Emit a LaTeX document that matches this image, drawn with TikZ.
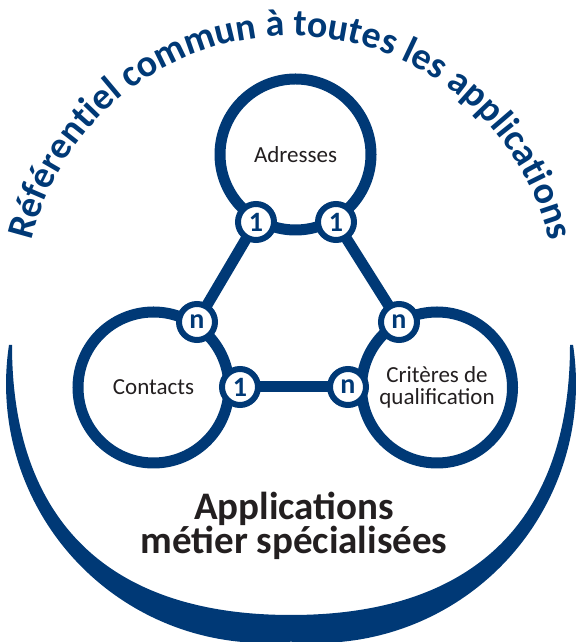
\documentclass[tikz,border=0pt]{standalone}
\usepackage{fontspec}
\setmainfont{Carlito}
\usetikzlibrary{decorations.text}
\definecolor{navy}{RGB}{0,57,118}
\definecolor{ink}{RGB}{35,31,32}
\begin{document}
\begin{tikzpicture}[x=1pt,y=1pt,
  bigring/.style={circle, draw=navy, line width=11pt, fill=white, minimum size=151pt, inner sep=0pt, align=center, text=ink, font=\fontsize{23}{23}\selectfont},
  badge/.style={circle, draw=navy, line width=6pt, fill=white, minimum size=36pt, inner sep=0pt, text=navy, font=\bfseries\fontsize{28}{28}\selectfont},
  link/.style={draw=navy, line width=11pt}
]
\useasboundingbox (0,0) rectangle (576,642);
% bottom crescent
\fill[navy] (9,297) arc[start angle=171.34, end angle=275.76, radius=259]
  arc[start angle=264.24, end angle=368.66, radius=259]
  -- (570,297) .. controls (570,130) and (482,27) .. (291,27)
  .. controls (100,27) and (12,130) .. (12,297) -- cycle;
% title along arc
\path[decorate, decoration={text along path, text align=center,
  text={|\color{navy}\bfseries\fontsize{38}{40}\selectfont|Référentiel commun à toutes les applications}}]
  (24.5,340) arc[start angle=180, end angle=0, radius=266];
% rings
\node[bigring] (adr) at (295.5,487.5) {Adresses};
\node[bigring] (con) at (153.5,254.5) {Contacts};
\node[bigring] (cri) at (437,254.5) {Critères de\\[-1pt]qualification};
% badge positions
\coordinate (pa1) at (256,420);
\coordinate (pa2) at (336,420);
\coordinate (pcn) at (197,320);
\coordinate (pc1) at (240,255);
\coordinate (pqn) at (399,320);
\coordinate (pq1) at (348,255);
% links
\draw[link] (pa1) -- (pcn);
\draw[link] (pa2) -- (pqn);
\draw[link] (pc1) -- (pq1);
% badges
\node[badge] (a1) at (pa1) {1};
\node[badge] (a2) at (pa2) {1};
\node[badge] (cn) at (pcn) {n};
\node[badge] (c1) at (pc1) {1};
\node[badge] (qn) at (pqn) {n};
\node[badge] (q1) at (pq1) {n};
% bottom text
\node[text=ink, align=center, font=\bfseries\fontsize{39}{34}\selectfont] (apps) at (294,116) {Applications\\métier spécialisées};
\end{tikzpicture}
\end{document}
